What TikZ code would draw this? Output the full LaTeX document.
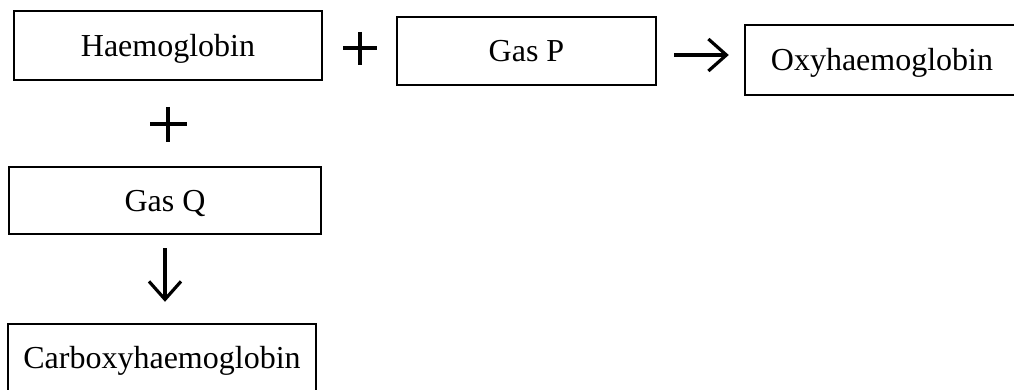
\documentclass[tikz,border=0pt]{standalone}
\usepackage{fontspec}
\setmainfont{Liberation Serif}
\usetikzlibrary{arrows.meta}
\begin{document}
\begin{tikzpicture}[x=0.5pt,y=-0.5pt,
  box/.style={draw, line width=1.2pt, inner sep=0pt, text height=10.6pt, text depth=0pt, font=\fontsize{16}{19}\selectfont},
  arr/.style={line width=1.6pt, -{Straight Barb[length=9pt,width=16pt,line width=1.6pt]}},
  plusline/.style={line width=2pt}]
\useasboundingbox (0,0) rectangle (1014,390);
\clip (0,0) rectangle (1014,390);
\node[box, minimum width=154pt, minimum height=34.5pt] (hb) at (168,45.5) {Haemoglobin};
\node[box, minimum width=129.5pt, minimum height=34pt] (gp) at (526.5,51) {Gas P};
\node[box, minimum width=137pt, minimum height=35pt] (oxy) at (882,60) {Oxyhaemoglobin};
\node[box, minimum width=156pt, minimum height=33.5pt] (gq) at (165,200.5) {Gas Q};
\node[box, minimum width=154pt, minimum height=34pt] (carb) at (162,358) {Carboxyhaemoglobin};
% plus signs
\draw[plusline] (343,48) -- (377,48) (360,32) -- (360,65);
\draw[plusline] (150,124) -- (187,124) (168,107) -- (168,142);
% arrows
\draw[arr, shorten <=8.5pt, shorten >=7.5pt] (gp.east |- 0,55) -- (oxy.west |- 0,55);
\draw[arr, shorten <=6.5pt, shorten >=10.5pt] (gq.south) -- (gq.south |- carb.north);
\end{tikzpicture}
\end{document}
